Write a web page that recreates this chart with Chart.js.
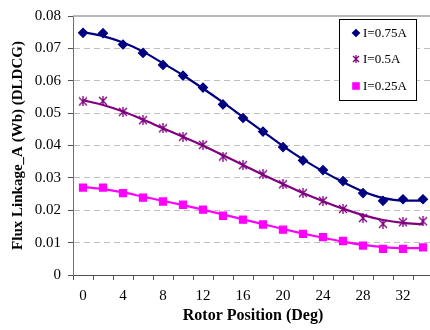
<!DOCTYPE html>
<html>
<head>
<meta charset="utf-8">
<script src="https://cdn.jsdelivr.net/npm/chart.js@4/dist/chart.umd.min.js"></script>
<style>
  html, body { margin: 0; padding: 0; background: #fff; overflow: hidden; }
  #wrap { width: 430px; height: 330px; overflow: hidden; }
  canvas { display: block; }
</style>
</head>
<body>
<div id="wrap"><canvas id="c" width="440" height="330"></canvas></div>
<script>
// Rotor position categories (deg)
const positions = ['0','2','4','6','8','10','12','14','16','18','20','22','24','26','28','30','32','34'];

// Measured flux linkage markers (Wb)
const flux075 = [0.0748,0.0747,0.0712,0.0686,0.0649,0.0616,0.0579,0.0527,0.0485,0.0443,0.0395,0.0354,0.0324,0.0290,0.0253,0.0229,0.0234,0.0234];
const flux050 = [0.0536,0.0538,0.0504,0.0478,0.0453,0.0427,0.0402,0.0366,0.0339,0.0311,0.0280,0.0253,0.0229,0.0204,0.0176,0.0158,0.0163,0.0166];
const flux025 = [0.0270,0.0270,0.0253,0.0239,0.0227,0.0217,0.0202,0.0183,0.0171,0.0156,0.0140,0.0127,0.0117,0.0105,0.0091,0.0081,0.0081,0.0085];

// Smooth trend lines
const trend075 = [0.0750,0.0738,0.0718,0.0690,0.0654,0.0617,0.0576,0.0533,0.0488,0.0443,0.0398,0.0357,0.0320,0.0287,0.0258,0.0238,0.0230,0.0230];
const trend050 = [0.0540,0.0525,0.0505,0.0480,0.0453,0.0427,0.0400,0.0370,0.0340,0.0310,0.0281,0.0253,0.0228,0.0205,0.0185,0.0170,0.0161,0.0157];
const trend025 = [0.0272,0.0265,0.0255,0.0242,0.0229,0.0216,0.0202,0.0187,0.0172,0.0157,0.0142,0.0128,0.0115,0.0103,0.0093,0.0086,0.0083,0.0083];

const seriesLabels = ['I=0.75A', 'I=0.5A', 'I=0.25A'];
const yTicks = [0, 0.01, 0.02, 0.03, 0.04, 0.05, 0.06, 0.07, 0.08];

const NAVY = '#000080', PURPLE = '#800080', MAGENTA = '#FF00FF';
const SERIF = "'Liberation Serif', 'Times New Roman', serif";

// Excel-style asterisk marker: X plus vertical stroke
function asterisk(size, color) {
  const cv = document.createElement('canvas');
  cv.width = size; cv.height = size;
  const g = cv.getContext('2d');
  g.strokeStyle = color; g.lineWidth = 1.3;
  const m = 1, e = size - 1, c = size / 2;
  g.beginPath();
  g.moveTo(m, m); g.lineTo(e, e);
  g.moveTo(e, m); g.lineTo(m, e);
  g.moveTo(c, 0); g.lineTo(c, size);
  g.stroke();
  return cv;
}
const starMarker = asterisk(10, PURPLE);
const starLegend = asterisk(8, PURPLE);

function markerSet(label, data, color, style, r) {
  return { label, data, showLine: false, borderColor: color, backgroundColor: color,
           pointStyle: style, pointRadius: r, pointHoverRadius: r, pointBorderWidth: 1.2,
           isMarker: true };
}
function trendSet(data, color) {
  return { label: '', data, borderColor: color, backgroundColor: color, borderWidth: 2.2,
           pointRadius: 0, tension: 0.4, cubicInterpolationMode: 'monotone', fill: false, isMarker: false };
}

const legendPlugin = {
  id: 'boxLegend',
  afterDraw(chart) {
    const ctx = chart.ctx;
    const ca = chart.chartArea;
    ctx.save();
    ctx.strokeStyle = '#a0a0a0';
    ctx.lineWidth = 1.5;
    ctx.beginPath();
    ctx.moveTo(ca.left, ca.top);
    ctx.lineTo(ca.right, ca.top);
    ctx.stroke();

    const bx = 339.5, by = 19.5, bw = 77, bh = 81;
    ctx.fillStyle = '#fff';
    ctx.fillRect(bx, by, bw, bh);
    ctx.strokeStyle = '#000';
    ctx.lineWidth = 1;
    ctx.strokeRect(bx, by, bw, bh);
    const markers = chart.data.datasets.filter(d => d.isMarker);
    const rows = [33, 59, 86];
    ctx.font = '13px ' + SERIF;
    ctx.textBaseline = 'middle';
    ctx.textAlign = 'left';
    markers.forEach((d, i) => {
      const y = rows[i];
      ctx.fillStyle = d.backgroundColor;
      ctx.strokeStyle = d.borderColor;
      ctx.lineWidth = 1.2;
      const ps = (i === 1) ? starLegend : d.pointStyle;
      Chart.helpers.drawPoint(ctx, { pointStyle: ps, radius: i === 2 ? 4.5 : 3.5, borderWidth: 1.2 }, 356, y);
      ctx.fillStyle = '#000';
      ctx.fillText(d.label, 363, y + 1);
    });
    ctx.restore();
  }
};

new Chart(document.getElementById('c'), {
  type: 'line',
  data: {
    labels: positions,
    datasets: [
      markerSet(seriesLabels[0], flux075, NAVY, 'rectRot', 4.5),
      markerSet(seriesLabels[1], flux050, PURPLE, starMarker, 5),
      markerSet(seriesLabels[2], flux025, MAGENTA, 'rect', 5),
      trendSet(trend075, NAVY),
      trendSet(trend050, PURPLE),
      trendSet(trend025, MAGENTA)
    ]
  },
  options: {
    responsive: false,
    devicePixelRatio: 1,
    animation: false,
    layout: { padding: { top: 13, right: 7, left: 0, bottom: 0 } },
    plugins: { legend: { display: false }, tooltip: { enabled: false } },
    scales: {
      x: {
        type: 'category',
        offset: true,
        afterFit(s) { s.height = 55; },
        grid: { offset: true, drawOnChartArea: false, drawTicks: true, tickLength: 5, tickColor: '#505050', tickWidth: 1 },
        border: { display: true, color: '#505050', width: 1 },
        ticks: {
          autoSkip: false, maxRotation: 0, minRotation: 0, padding: 7, color: '#000',
          font: { family: SERIF, size: 15 },
          callback: function (v, i) { return i % 2 === 0 ? this.getLabelForValue(v) : ''; }
        },
        title: { display: true, text: 'Rotor Position (Deg)', color: '#000',
                 font: { family: SERIF, size: 16, weight: 'bold' }, padding: { top: 0, bottom: 5 } }
      },
      y: {
        min: 0, max: 0.08,
        afterFit(s) { s.width = 73; },
        afterBuildTicks(s) { s.ticks = yTicks.map(v => ({ value: v })); },
        grid: {
          drawTicks: true, tickLength: 5, tickColor: '#505050', tickWidth: 1, tickBorderDash: [],
          color: c => (c.tick && (c.tick.value === 0 || c.tick.value === 0.08)) ? 'rgba(0,0,0,0)' : '#c0c0c0',
          lineWidth: 1
        },
        border: { display: true, color: '#707070', width: 1, dash: [6, 4] },
        ticks: {
          padding: 7, color: '#000', font: { family: SERIF, size: 15 },
          callback: v => v === 0 ? '0' : v.toFixed(2)
        },
        title: { display: true, text: 'Flux Linkage_A (Wb) (DLDCG)', color: '#000',
                 font: { family: SERIF, size: 15, weight: 'bold' }, padding: { top: 9, bottom: 0 } }
      }
    }
  },
  plugins: [legendPlugin]
});
</script>
</body>
</html>
